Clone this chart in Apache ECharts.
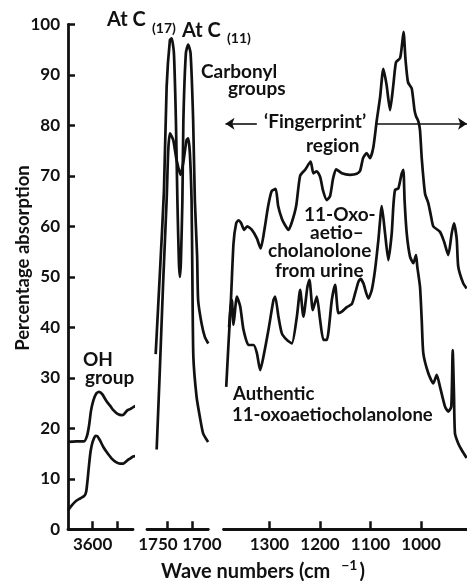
<!DOCTYPE html>
<html>
<head>
<meta charset="utf-8">
<script src="https://cdn.jsdelivr.net/npm/echarts@6/dist/echarts.min.js"></script>
<style>
html,body{margin:0;padding:0;background:#fff;}
#chart{width:467px;height:581px;}
</style>
</head>
<body>
<div id="chart"></div>
<script>
// ---- Data (wave number cm^-1, percentage absorption) ----
// OH region
const ohUpperWave = [3700,3667.5,3635,3622.8,3614.6,3606.5,3597.2,3586.2,3574,3561.8,3542.7,3529.3,3515.9,3496.8,3481.7,3472.4,3460.2,3448,3434.6,3419.5,3396.3];
const ohUpperAbs  = [17.3,17.4,17.4,18.5,20.5,23.5,25.5,26.8,27.2,26.8,25.3,24.5,23.6,22.8,22.6,22.8,23.5,23.8,24.2,24.5,24.4];
const ohLowerWave = [3700,3683.7,3667.5,3651.2,3634,3626,3620,3614,3608,3600,3588.2,3580,3570,3556.5,3541.5,3522.4,3504.9,3488.6,3475.2,3460,3448,3435.8,3419.5,3396.3];
const ohLowerAbs  = [3.8,4.8,5.6,6.1,6.6,7.5,10,13,15.5,17.3,18.5,18.4,17.6,16.3,15.2,14,13.3,13,13,13.6,14,14.4,14.5,14.4];
// Carbonyl region
const coUpperWave = [1772.6,1764,1756,1750.6,1744,1740.6,1736,1732,1729,1726,1724,1722,1719,1717,1712,1707.4,1702.6,1697.4,1694,1689.4,1687.4,1680.6,1674,1667];
const coUpperAbs  = [34.7,51,67,87.6,96.9,97.2,94.3,81,65,53,50,53,65,81,94.3,96,94.3,81,65.2,54,45.4,40.8,38.1,36.8];
const coLowerWave = [1770.6,1764,1757.4,1750.6,1747.4,1744,1737.4,1730.6,1722.6,1717.4,1710.6,1707.4,1704,1700.6,1699,1697,1690.6,1684,1677.4,1667.4];
const coLowerAbs  = [15.8,32.2,49.4,65.2,75,78.4,77.1,73.1,70.2,72.5,77.1,77.4,74.5,65.2,50.7,34.2,26.3,22.3,19,17.3];
// Fingerprint region
const fpUpperWave = [1380,1376.3,1371.2,1365.9,1361.3,1356,1350,1344.1,1334.8,1324.9,1317.4,1310.5,1302.6,1295.6,1287.7,1282.8,1275.5,1269,1262.4,1255.7,1247.2,1239.3,1229.4,1218.5,1213,1206.3,1199.7,1193.8,1186.5,1180,1174,1168.1,1156.8,1140.4,1127.2,1120.6,1114.7,1107.8,1100.9,1094.3,1087.6,1081.1,1074.6,1068.2,1061.3,1054.8,1049.5,1041.5,1037.6,1034.6,1030.7,1025.7,1018.4,1012.9,1009.9,1005.3,1002,998.6,992.1,985.6,980.2,975.7,962.4,954.5,946,939.3,934.8,929.4,926.3,916.4,909.7];
const fpUpperAbs  = [40,45.4,56.6,60.6,61.2,60.6,59.3,60,59.3,57.6,55.6,59,64,67,67.4,64,61.5,60.2,59.3,60.8,64,70,71.2,72.8,70.5,70.9,69.8,67,65.2,66,69.5,71.3,70.5,70.2,70.4,71,73.5,74.5,73.5,75.7,81,85.5,91.2,88,83,88,92.5,93.3,96,98.5,93,88.5,87.3,83,81.8,80.8,79,73.5,66.5,64.6,62,60,58.9,57,54.3,58.6,60.6,57.5,52,48.7,47.7];
const fpLowerWave = [1385.6,1377.7,1374.4,1371.2,1364.5,1357.9,1351.4,1341.5,1331.6,1324.9,1318.4,1311.9,1302,1292.1,1288.7,1282.2,1275.5,1265.6,1255.7,1245.8,1239.3,1232.8,1224.9,1220.9,1214.2,1206.3,1199.7,1193.2,1186.5,1176.6,1170.1,1163.6,1156.8,1146.9,1137,1130.5,1124,1119.7,1114.1,1104.2,1097.5,1091,1084.4,1077.7,1071.2,1064.7,1058,1054.8,1051.4,1044.9,1038.2,1035,1032.5,1028.3,1021.8,1015.2,1009.9,1007.4,1002,998.6,995.5,985.6,975.7,968.9,962.4,952.5,946,940.1,937.3,934.8,932.8,926.3,919.5,909.7];
const fpLowerAbs  = [28.2,42.8,45.4,40.5,46.1,44.1,39.5,36.5,36.5,34.9,31.5,34.2,39.5,45.4,46.1,42.1,38.8,37.5,36.8,42.1,47.4,42.1,48,49.4,43.4,46.1,41.4,37.5,37.5,45.4,48.4,42.8,43.1,44,44.6,46.7,49,49.6,48.7,45.7,47.4,51.4,57.3,64,58.6,53.3,58.6,64,67.2,67.5,70.5,71.2,65,58.6,54,52.7,54.3,52,48,41.4,34.9,30.9,28.9,30.6,28.2,24.3,23.3,24.3,35.5,26.9,19,17,15.7,14.1];
// Axis ticks / labels
const ohTicks = [3600,3500];
const ohLabels = [3600];
const coTicks = [1750,1700];
const fpTicks = [1300,1200,1100,1000];
// Fingerprint arrow level and segments (wave numbers)
const fpArrowLevel = 80.3;
const fpArrowLeft = [1387,1325];
const fpArrowRight = [1087,909];

const pairs = (xs, ys) => xs.map((x, i) => [x, ys[i]]);
const FONT = 'Lato';
const INK = '#111';
const FW = 'bold';

const chart = echarts.init(document.getElementById('chart'), null, {renderer:'canvas'});
const gridTop = 24.3, gridH = 505;

function xAx(idx, min, max, ticks, labels, labelFmt){
  return {
    type:'value', gridIndex: idx, inverse:true, min:min, max:max,
    axisLine:{show:true, onZero:false, lineStyle:{color:INK, width:2.8}},
    axisTick:{show:true, inside:true, length:8, lineStyle:{color:INK, width:2.5}, customValues: ticks},
    axisLabel:{show:true, color:INK, fontFamily:FONT, fontWeight:FW, fontSize:17, margin:7, customValues: labels,
      formatter: labelFmt || (v => String(v)), rich: {
        l:{fontFamily:FONT, fontWeight:FW, fontSize:17, color:INK, padding:[0,18,0,0]},
        r:{fontFamily:FONT, fontWeight:FW, fontSize:17, color:INK, padding:[0,0,0,20]}
      }},
    splitLine:{show:false}
  };
}
function lineSeries(xi, data){
  return {
    type:'line', xAxisIndex:xi, yAxisIndex:xi, data:data, showSymbol:false, smooth:0.2,
    clip:false, lineStyle:{color:INK, width:2.7}, silent:true
  };
}

const texts = [
  {x:107, y:20, t:'At C', fs:20},
  {x:152, y:28, t:'(17)', fs:14},
  {x:182, y:31, t:'At C', fs:20},
  {x:227, y:38, t:'(11)', fs:14},
  {x:201, y:72, t:'Carbonyl', fs:19},
  {x:228, y:89, t:'groups', fs:19},
  {x:264, y:122, t:'\u2018Fingerprint\u2019', fs:19},
  {x:306, y:146, t:'region', fs:19},
  {x:304, y:215, t:'11-Oxo-', fs:19},
  {x:310, y:233, t:'aetio\u2013', fs:19},
  {x:268, y:251, t:'cholanolone', fs:19},
  {x:275, y:271, t:'from urine', fs:19},
  {x:83, y:360, t:'OH', fs:19},
  {x:85, y:378, t:'group', fs:19},
  {x:233, y:394, t:'Authentic', fs:18.5},
  {x:232, y:415, t:'11-oxoaetiocholanolone', fs:18.5}
];

const option = {
  animation:false,
  backgroundColor:'#fff',
  grid:[
    {left:68, top:gridTop, width:65, height:gridH},
    {left:147, top:gridTop, width:61.3, height:gridH},
    {left:223.5, top:gridTop, width:243.5, height:gridH}
  ],
  xAxis:[
    xAx(0, 3436, 3700, ohTicks, ohLabels),
    xAx(1, 1667, 1790, coTicks, coTicks, v => v === 1750 ? '{l|1750}' : '{r|1700}'),
    xAx(2, 909, 1391, fpTicks, fpTicks)
  ],
  yAxis:[
    {type:'value', gridIndex:0, min:0, max:100, interval:10,
     axisLine:{show:true, onZero:false, lineStyle:{color:INK, width:2.8}},
     axisTick:{show:true, inside:true, length:7, lineStyle:{color:INK, width:2.5}},
     axisLabel:{color:INK, fontFamily:FONT, fontWeight:FW, fontSize:17, margin:8},
     splitLine:{show:false}},
    {type:'value', gridIndex:1, min:0, max:100, show:false},
    {type:'value', gridIndex:2, min:0, max:100, show:false}
  ],
  series:[
    lineSeries(0, pairs(ohUpperWave, ohUpperAbs)),
    lineSeries(0, pairs(ohLowerWave, ohLowerAbs)),
    lineSeries(1, pairs(coUpperWave, coUpperAbs)),
    lineSeries(1, pairs(coLowerWave, coLowerAbs)),
    Object.assign(lineSeries(2, pairs(fpUpperWave, fpUpperAbs)), {
      markLine:{
        silent:true, symbolSize:[9,9], label:{show:false},
        lineStyle:{color:INK, width:1.6, type:'solid'},
        data:[
          [{coord:[fpArrowLeft[0], fpArrowLevel], symbol:'arrow'}, {coord:[fpArrowLeft[1], fpArrowLevel], symbol:'none'}],
          [{coord:[fpArrowRight[0], fpArrowLevel], symbol:'none'}, {coord:[fpArrowRight[1], fpArrowLevel], symbol:'arrow'}]
        ]
      }
    }),
    lineSeries(2, pairs(fpLowerWave, fpLowerAbs))
  ],
  graphic: texts.map(d => ({
    type:'text', x:d.x, y:d.y, silent:true,
    style:{text:d.t, fill:INK, fontFamily:FONT, fontWeight:FW, fontSize:d.fs, align:'left', verticalAlign:'middle'}
  })).concat([
    {type:'text', x:23, y:258, rotation:Math.PI/2, silent:true,
     style:{text:'Percentage absorption', fill:INK, fontFamily:FONT, fontWeight:FW, fontSize:18.5, align:'center', verticalAlign:'middle'}},
    {type:'text', x:263, y:572, silent:true,
     style:{text:'Wave numbers (cm {s|\u22121})', fill:INK, fontFamily:FONT, fontWeight:FW, fontSize:20, align:'center', verticalAlign:'middle',
       rich:{s:{fontFamily:FONT, fontWeight:FW, fontSize:14, fill:INK, padding:[0,2,14,6]}}}}
  ])
};
chart.setOption(option);
</script>
</body>
</html>
